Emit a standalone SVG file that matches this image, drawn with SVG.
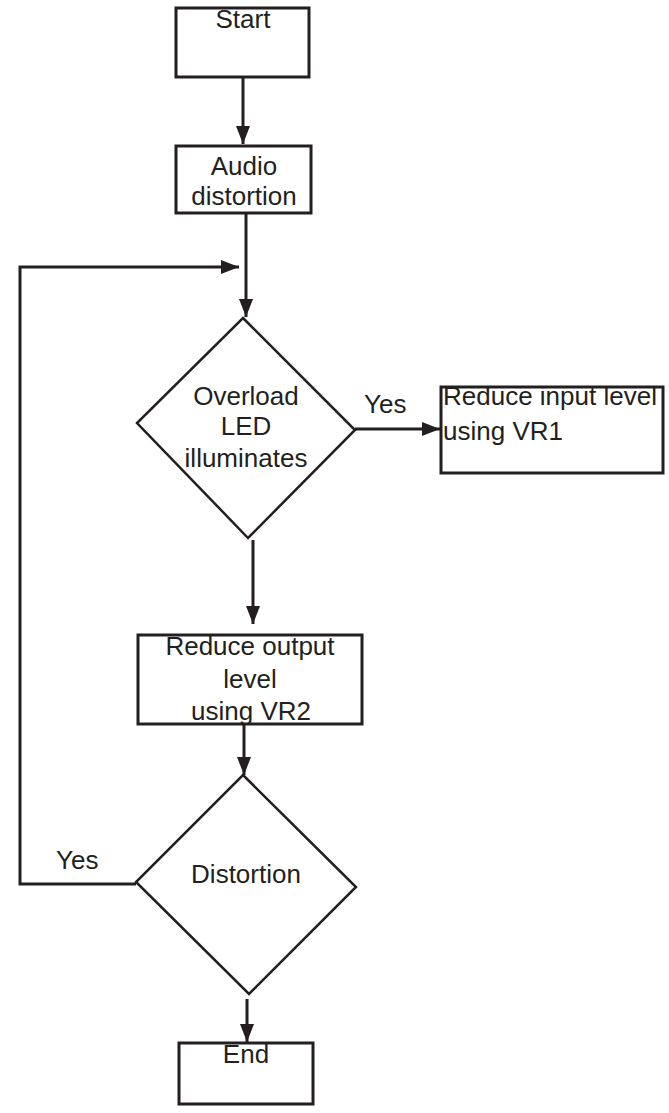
<svg xmlns="http://www.w3.org/2000/svg" width="669" height="1113" viewBox="0 0 669 1113">
<style>
.box{fill:#fff;stroke:#231f20;stroke-width:3}
.dia{fill:#fff;stroke:#231f20;stroke-width:2.5}
.ln{fill:none;stroke:#231f20;stroke-width:3}
.t{font-family:"Liberation Sans",Arial,sans-serif;font-size:26px;fill:#231f20}
.c{text-anchor:middle}
</style>
<defs>
<marker id="ah" markerUnits="userSpaceOnUse" markerWidth="20" markerHeight="14" refX="18" refY="7" orient="auto">
<path d="M0,0 L18,7 L0,14 Z" fill="#231f20"/>
</marker>
</defs>
<rect width="669" height="1113" fill="#fff"/>
<g id="connectors">
<line class="ln" x1="243" y1="77" x2="243" y2="144" marker-end="url(#ah)"/>
<line class="ln" x1="246" y1="213" x2="246" y2="317" marker-end="url(#ah)"/>
<line class="ln" x1="355" y1="429" x2="440" y2="429" marker-end="url(#ah)"/>
<line class="ln" x1="253" y1="540" x2="253" y2="624" marker-end="url(#ah)"/>
<line class="ln" x1="244" y1="724" x2="244" y2="775" marker-end="url(#ah)"/>
<line class="ln" x1="247" y1="999" x2="247" y2="1042" marker-end="url(#ah)"/>
<polyline class="ln" points="136,884 20,884 20,267 239,267" marker-end="url(#ah)"/>
<text class="t" x="364" y="413">Yes</text>
<text class="t" x="56" y="869">Yes</text>
</g>
<g id="start">
<rect class="box" x="176" y="8" width="133" height="69"/>
<text class="t c" x="243" y="28">Start</text>
</g>
<g id="audio">
<rect class="box" x="176" y="146" width="135" height="67"/>
<text class="t c" x="244" y="175">Audio</text>
<text class="t c" x="244" y="205">distortion</text>
</g>
<g id="overload">
<polygon class="dia" points="243,318 355,430 248,538 137,423"/>
<text class="t c" x="246" y="405">Overload</text>
<text class="t c" x="246" y="435">LED</text>
<text class="t c" x="246" y="467">illuminates</text>
</g>
<g id="reduce-input">
<rect class="box" x="441" y="387" width="222" height="86"/>
<text class="t" x="443" y="405">Reduce input level</text>
<text class="t" x="443" y="440">using VR1</text>
</g>
<g id="reduce-output">
<rect class="box" x="138" y="635" width="224" height="89"/>
<text class="t c" x="250" y="655">Reduce output</text>
<text class="t c" x="250" y="688">level</text>
<text class="t c" x="251" y="720">using VR2</text>
</g>
<g id="distortion">
<polygon class="dia" points="243,775 356,887 249,994 136,882"/>
<text class="t c" x="246" y="883">Distortion</text>
</g>
<g id="end">
<rect class="box" x="179" y="1043" width="134" height="61"/>
<text class="t c" x="246" y="1063">End</text>
</g>
</svg>
